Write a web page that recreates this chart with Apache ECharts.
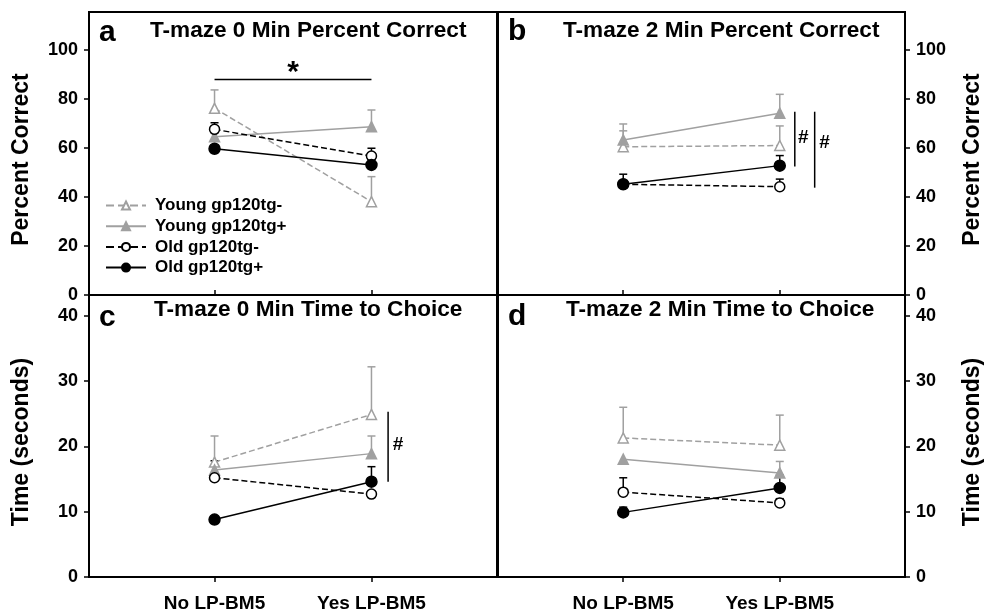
<!DOCTYPE html>
<html><head><meta charset="utf-8">
<script src="https://cdn.jsdelivr.net/npm/echarts@6/dist/echarts.min.js"></script>
<style>html,body{margin:0;padding:0;background:#fff}#c{width:985px;height:613px}</style>
</head><body><div id="c"></div>
<script>
// ---------- data ----------
const categories = ['No LP-BM5', 'Yes LP-BM5'];
const groups = ['Young gp120tg-', 'Young gp120tg+', 'Old gp120tg-', 'Old gp120tg+'];
const panelTitles = ['T-maze 0 Min Percent Correct', 'T-maze 2 Min Percent Correct', 'T-maze 0 Min Time to Choice', 'T-maze 2 Min Time to Choice'];
const panelLetters = ['a', 'b', 'c', 'd'];
const pctTicks = [0, 20, 40, 60, 80, 100];
const timeTicks = [0, 10, 20, 30, 40];

// means per group (rows) for [No, Yes]
const meanA = [[76.2, 38.1], [64.6, 68.7], [67.6, 56.7], [59.7, 53.1]];
const errA  = [[7.5, 10.2], [0, 6.8], [2.7, 3.2], [0, 0]];
const meanB = [[60.5, 61.0], [63.3, 74.2], [45.2, 44.2], [45.2, 52.8]];
const errB  = [[6.5, 8.0], [6.5, 7.7], [0, 3.1], [4.1, 4.1]];
const meanC = [[17.6, 24.9], [16.4, 18.9], [15.2, 12.7], [8.8, 14.6]];
const errC  = [[4.0, 7.3], [0, 2.7], [2.6, 0], [0, 2.3]];
const meanD = [[21.3, 20.2], [18.05, 15.95], [13.0, 11.35], [9.9, 13.65]];
const errD  = [[4.7, 4.6], [0, 1.75], [2.2, 0.65], [0.8, 1.95]];

// significance annotations: [x1, y1, x2, y2] in data units; labels [x, y, text]
const sigLinesA = [[1, 88, 2, 88]];
const sigLabelsA = [[1.5, 90.8, '*']];
const sigLinesB = [[2.096, 74.8, 2.096, 52.4], [2.223, 74.8, 2.223, 43.8]];
const sigLabelsB = [[2.15, 64, '#'], [2.286, 62, '#']];
const sigLinesC = [[2.106, 25.3, 2.106, 14.6]];
const sigLabelsC = [[2.17, 20.3, '#']];
const sigLinesD = [];
const sigLabelsD = [];

// ---------- styles ----------
const GRAY = '#a0a0a0';
const groupColor = [GRAY, GRAY, '#000', '#000'];
const groupDash = ['dashed', 'solid', 'dashed', 'solid'];
const groupSymbol = ['triangle', 'triangle', 'circle', 'circle'];
const groupFill = ['#fff', GRAY, '#fff', '#000'];
const groupSize = [10, 10, 10, 11];
const FONT = 'Liberation Sans, Arial, sans-serif';

const panels = [
  {mean: meanA, err: errA, lines: sigLinesA, labels: sigLabelsA},
  {mean: meanB, err: errB, lines: sigLinesB, labels: sigLabelsB},
  {mean: meanC, err: errC, lines: sigLinesC, labels: sigLabelsC},
  {mean: meanD, err: errD, lines: sigLinesD, labels: sigLabelsD}
];

const gridBoxes = [
  {left: 89, top: 12, width: 408, height: 283},
  {left: 498, top: 12, width: 410, height: 283},
  {left: 89, top: 295, width: 408, height: 282},
  {left: 498, top: 295, width: 410, height: 282}
];

const grid = gridBoxes.map(b => Object.assign({show: true, borderColor: '#000', borderWidth: 2, backgroundColor: 'transparent'}, b));

const xAxis = gridBoxes.map((b, i) => ({
  type: 'value', gridIndex: i, min: 0.2, max: 2.8,
  splitLine: {show: false},
  axisLine: {show: true, lineStyle: {color: '#000', width: 2}},
  axisTick: {show: true, customValues: [1, 2], length: 5, inside: i < 2, lineStyle: {color: '#000', width: 1.5}},
  axisLabel: {
    show: i >= 2, customValues: [1, 2], margin: 17,
    formatter: v => categories[Math.round(v) - 1] || '',
    color: '#000', fontSize: 19, fontWeight: 'bold', fontFamily: FONT
  }
}));

const yAxis = gridBoxes.map((b, i) => {
  const isPct = i < 2;
  const ticks = isPct ? pctTicks : timeTicks;
  return {
    type: 'value', gridIndex: i,
    position: (i % 2 === 0) ? 'left' : 'right',
    min: 0, max: isPct ? 115.5 : 43.2,
    splitLine: {show: false},
    axisLine: {show: true, lineStyle: {color: '#000', width: 2}},
    axisTick: {show: true, customValues: ticks, length: 5, lineStyle: {color: '#000', width: 1.5}},
    axisLabel: {customValues: ticks, margin: 11, color: '#000', fontSize: 18, fontWeight: 'bold', fontFamily: FONT},
    name: isPct ? 'Percent Correct' : 'Time (seconds)',
    nameLocation: 'middle', nameRotate: 90, nameGap: 56,
    nameTextStyle: {color: '#000', fontSize: 23, fontWeight: 'bold', fontFamily: FONT, padding: [0, 12, 0, 0]}
  };
});

const series = [];
panels.forEach((p, pi) => {
  // error bars
  const errData = [];
  p.mean.forEach((row, g) => row.forEach((m, ci) => errData.push([ci + 1, m, p.err[g][ci], g])));
  series.push({
    type: 'custom', xAxisIndex: pi, yAxisIndex: pi, z: 1, silent: true,
    data: errData,
    renderItem: (params, api) => {
      const x = api.value(0), m = api.value(1), e = api.value(2), g = api.value(3);
      if (!(e > 0)) return null;
      const p0 = api.coord([x, m]), p1 = api.coord([x, m + e]);
      const col = groupColor[g];
      return {type: 'group', children: [
        {type: 'line', shape: {x1: p0[0], y1: p0[1], x2: p1[0], y2: p1[1]}, style: {stroke: col, lineWidth: 1.5}},
        {type: 'line', shape: {x1: p1[0] - 4, y1: p1[1], x2: p1[0] + 4, y2: p1[1]}, style: {stroke: col, lineWidth: 1.5}}
      ]};
    }
  });
  // group lines
  p.mean.forEach((row, g) => {
    series.push({
      type: 'line', name: groups[g], xAxisIndex: pi, yAxisIndex: pi, z: 3 + g,
      data: row.map((v, ci) => [ci + 1, v]),
      symbol: groupSymbol[g], symbolSize: groupSize[g], showAllSymbol: true,
      lineStyle: {color: groupColor[g], width: 1.5, type: groupDash[g]},
      itemStyle: {color: groupFill[g], borderColor: groupColor[g], borderWidth: 1.5},
      emphasis: {disabled: true}, animation: false
    });
  });
  // annotations
  if (p.lines.length) {
    series.push({
      type: 'custom', xAxisIndex: pi, yAxisIndex: pi, z: 10, silent: true,
      data: p.lines,
      renderItem: (params, api) => {
        const a = api.coord([api.value(0), api.value(1)]), b = api.coord([api.value(2), api.value(3)]);
        return {type: 'line', shape: {x1: a[0], y1: a[1], x2: b[0], y2: b[1]}, style: {stroke: '#000', lineWidth: 1.5}};
      }
    });
  }
  if (p.labels.length) {
    series.push({
      type: 'custom', xAxisIndex: pi, yAxisIndex: pi, z: 10, silent: true,
      data: p.labels,
      renderItem: (params, api) => {
        const t = p.labels[params.dataIndex][2];
        const c = api.coord([api.value(0), api.value(1)]);
        return {type: 'text', x: c[0], y: c[1], style: {text: t, fill: '#000', font: 'bold ' + (t === '*' ? 30 : 19) + 'px ' + FONT, align: 'center', verticalAlign: 'middle'}};
      }
    });
  }
});

const titleLefts = [150, 563, 154, 566];
const titleTops = [19, 19, 298, 298];
const letterLefts = [99, 508, 99, 508];
const letterTops = [18, 17, 303, 302];
const title = [];
panelTitles.forEach((t, i) => title.push({text: t, left: titleLefts[i], top: titleTops[i], padding: 0,
  textStyle: {color: '#000', fontSize: 22.6, fontWeight: 'bold', fontFamily: FONT}}));
panelLetters.forEach((t, i) => title.push({text: t, left: letterLefts[i], top: letterTops[i], padding: 0,
  textStyle: {color: '#000', fontSize: 30, fontWeight: 'bold', fontFamily: FONT}}));

const chart = echarts.init(document.getElementById('c'), null, {renderer: 'canvas'});
chart.setOption({
  animation: false,
  backgroundColor: '#fff',
  title,
  grid, xAxis, yAxis, series,
  legend: {
    data: groups, orient: 'vertical', left: 105, top: 197, padding: 0,
    itemWidth: 40, itemHeight: 10, itemGap: 3.7,
    selectedMode: false,
    textStyle: {color: '#000', fontSize: 17, fontWeight: 'bold', fontFamily: FONT, padding: [0, 0, 0, 4]}
  }
});
</script>
</body></html>
